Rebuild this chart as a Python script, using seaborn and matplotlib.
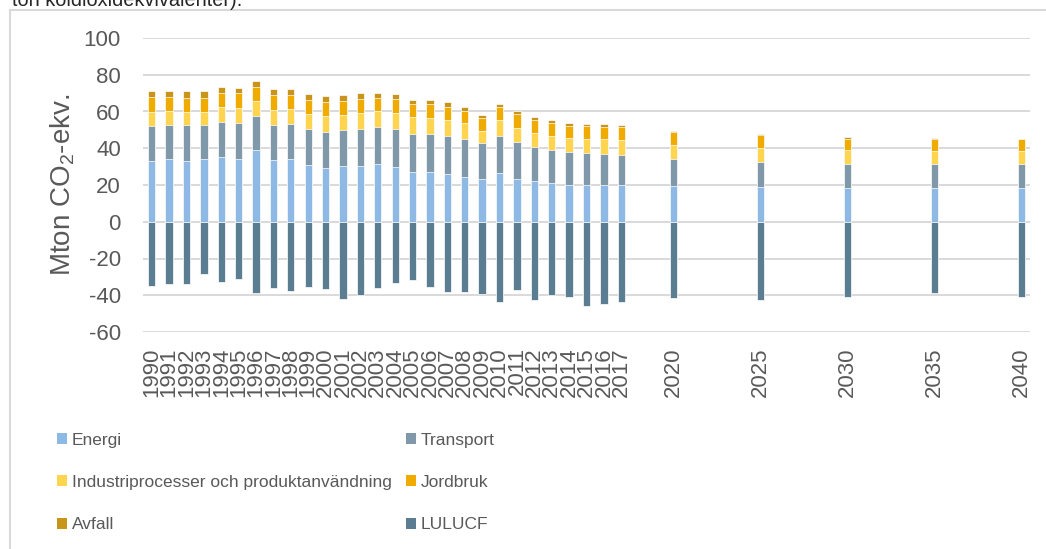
import numpy as np
import pandas as pd
import matplotlib
matplotlib.use("Agg")
import matplotlib.pyplot as plt
from matplotlib.patches import Patch
from matplotlib.lines import Line2D
import seaborn as sns

years = list(range(1990, 2018)) + [2020, 2025, 2030, 2035, 2040]

energi = [33.1, 34.2, 33.1, 34.2, 35.3, 34.2, 38.9, 33.6, 34.2, 30.9, 29.4, 30.2, 30.4, 31.3,
          29.8, 26.9, 26.9, 25.8, 24.4, 23.1, 26.7, 23.3, 22.2, 20.9, 20.2, 20.0, 20.0, 20.0,
          19.5, 18.9, 18.4, 18.2, 18.2]
transport = [19.2, 18.5, 19.6, 18.5, 19.2, 19.6, 18.9, 19.3, 19.2, 19.8, 19.7, 19.6, 20.1, 20.3,
             20.7, 21.1, 21.1, 20.9, 20.7, 20.0, 20.2, 20.0, 18.7, 18.3, 17.8, 17.6, 16.9, 16.3,
             14.7, 13.6, 13.2, 13.4, 13.4]
industri = [7.6, 7.6, 7.1, 7.2, 7.8, 8.2, 8.0, 8.0, 8.0, 8.0, 8.5, 8.5, 8.9, 8.6,
            8.9, 8.9, 8.5, 8.7, 8.5, 6.5, 8.5, 7.8, 7.6, 7.7, 7.4, 7.6, 8.0, 8.0,
            7.6, 7.8, 7.5, 7.1, 7.1]
jordbruk = [8.1, 7.7, 7.4, 7.5, 7.8, 7.8, 7.6, 8.0, 7.6, 7.5, 7.5, 7.5, 7.3, 7.4,
            7.5, 7.2, 7.5, 7.3, 6.9, 6.7, 7.1, 7.6, 6.8, 6.9, 6.9, 6.8, 6.9, 7.4,
            7.1, 6.8, 6.1, 6.2, 6.2]
avfall = [3.2, 3.4, 3.7, 3.6, 3.5, 3.2, 3.4, 3.2, 3.3, 3.4, 3.4, 3.2, 3.1, 2.5,
          2.5, 2.4, 2.5, 2.2, 2.0, 2.0, 1.8, 1.5, 1.6, 1.5, 1.7, 1.4, 1.3, 0.9,
          0.7, 0.5, 1.0, 0.5, 0.3]
lulucf = [-34.7, -33.8, -33.8, -28.7, -32.7, -31.2, -38.7, -36.0, -37.9, -35.4, -36.7, -41.9, -39.6, -36.1,
          -33.4, -31.6, -35.6, -38.3, -38.3, -39.4, -43.9, -37.2, -42.5, -39.6, -41.2, -45.6, -44.7, -43.8,
          -41.6, -42.7, -40.7, -39.0, -40.7]

series_names = ["Energi", "Transport", "Industriprocesser och produktanvändning", "Jordbruk", "Avfall"]
series_vals = [energi, transport, industri, jordbruk, avfall]
colors = {
    "Energi": "#8DB9E4",
    "Transport": "#7F99AA",
    "Industriprocesser och produktanvändning": "#FFD44F",
    "Jordbruk": "#EFAB00",
    "Avfall": "#C8941A",
    "LULUCF": "#5A7D91",
}
xtick_years = list(range(1990, 2018)) + [2020, 2025, 2030, 2035, 2040]
yticks = list(range(-60, 101, 20))

sns.set_style("white")
plt.rcParams["font.family"] = ["Liberation Sans", "DejaVu Sans"]
plt.rcParams["mathtext.fontset"] = "custom"
plt.rcParams["mathtext.rm"] = "Liberation Sans"
plt.rcParams["mathtext.it"] = "Liberation Sans"

fig = plt.figure(figsize=(10.46, 5.49), dpi=100)
ax = fig.add_axes([143 / 1046, 1 - 332 / 549, (1030 - 143) / 1046, (332 - 38) / 549])

df = pd.DataFrame({"year": years})
cum = np.zeros(len(years))
cums = []
for name, vals in zip(series_names, series_vals):
    cum = cum + np.array(vals)
    df[name] = cum.copy()
    cums.append(name)
df["LULUCF"] = lulucf

# draw cumulative stacks from top to bottom so lower layers overdraw
for name in reversed(cums):
    sns.barplot(data=df, x="year", y=name, color=colors[name], native_scale=True,
                width=0.42, saturation=1, errorbar=None, ax=ax,
                edgecolor="white", linewidth=0.5, zorder=3)
sns.barplot(data=df, x="year", y="LULUCF", color=colors["LULUCF"], native_scale=True,
            width=0.42, saturation=1, errorbar=None, ax=ax,
            edgecolor="white", linewidth=0.5, zorder=3)

ax.set_xlim(1989.5, 2040.5)
ax.set_ylim(-60, 100)
ax.set_yticks(yticks)
ax.set_yticklabels([str(v) for v in yticks], fontsize=16, color="#595959")
ax.set_xticks(xtick_years)
ax.set_xticklabels([str(v) for v in xtick_years], rotation=90, fontsize=16, color="#595959")
ax.tick_params(axis="both", length=0)
ax.tick_params(axis="x", pad=11)
ax.tick_params(axis="y", pad=16)
ax.set_axisbelow(True)
ax.grid(axis="y", color="#D9D9D9", linewidth=1.4, zorder=0)
ax.grid(axis="x", visible=False)
for s in ax.spines.values():
    s.set_visible(False)
ax.set_xlabel("")
ax.set_ylabel(r"Mton CO$_2$-ekv.", fontsize=20, color="#595959")
ax.yaxis.set_label_coords(-0.074, 0.5)

handles_order = ["Energi", "Industriprocesser och produktanvändning", "Avfall",
                 "Transport", "Jordbruk", "LULUCF"]
handles = [Patch(facecolor=colors[n], edgecolor="none", label=n) for n in handles_order]
fig.legend(handles=handles, loc="upper left", bbox_to_anchor=(57 / 1046, 1 - 433 / 549),
           ncol=2, frameon=False, fontsize=12.5, labelcolor="#595959",
           handlelength=0.6, handleheight=0.6, handletextpad=0.25,
           columnspacing=0.8, labelspacing=1.56, borderpad=0, borderaxespad=0)

# outer frame (left and top edges visible)
fig.add_artist(Line2D([9.5 / 1046, 9.5 / 1046], [0, 1 - 10 / 549], transform=fig.transFigure,
                      color="#D9D9D9", linewidth=1.5))
fig.add_artist(Line2D([9.5 / 1046, 1], [1 - 10 / 549, 1 - 10 / 549], transform=fig.transFigure,
                      color="#D9D9D9", linewidth=1.5))
fig.text(12 / 1046, 1 - 6 / 549, "ton koldioxidekvivalenter).", fontsize=14.3, color="#262626",
         va="baseline", ha="left")

fig.savefig("out.png", dpi=100)
